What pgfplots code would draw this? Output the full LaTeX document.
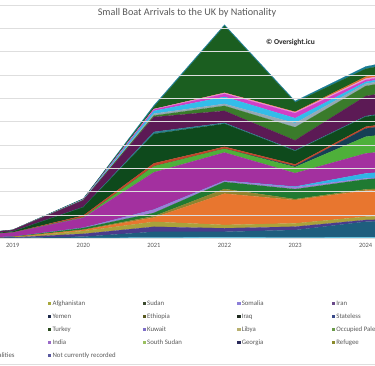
\documentclass[border=0pt]{standalone}
\usepackage{pgfplots}
\pgfplotsset{compat=1.18}
\usepackage{pgfplotstable}
\usepackage{fontspec}
\setmainfont{Carlito}
\definecolor{txtgray}{HTML}{595959}
\definecolor{gridgray}{HTML}{DEDEDE}
\definecolor{c1}{HTML}{5BC8E8}
\definecolor{c2}{HTML}{1E5E7E}
\definecolor{c3}{HTML}{4B3B8C}
\definecolor{c4}{HTML}{A9A23C}
\definecolor{c5}{HTML}{E8762F}
\definecolor{c6}{HTML}{8C8530}
\definecolor{c7}{HTML}{1F7A32}
\definecolor{c8}{HTML}{9A80D8}
\definecolor{c9}{HTML}{2FB5E6}
\definecolor{c10}{HTML}{A3309F}
\definecolor{c11}{HTML}{4EB03A}
\definecolor{c12}{HTML}{163F55}
\definecolor{c13}{HTML}{C2452B}
\definecolor{c14}{HTML}{0E4A1C}
\definecolor{c15}{HTML}{2A8090}
\definecolor{c16}{HTML}{5C1A55}
\definecolor{c17}{HTML}{3A7B2B}
\definecolor{c18}{HTML}{94A9B5}
\definecolor{c19}{HTML}{33BDEA}
\definecolor{c20}{HTML}{D23FC6}
\definecolor{c21}{HTML}{E89AD8}
\definecolor{c22}{HTML}{E07030}
\definecolor{c23}{HTML}{1B5E20}
\definecolor{c24}{HTML}{1B7D96}
% legend marker colours
\definecolor{lAfg}{HTML}{A8A83C}
\definecolor{lSud}{HTML}{3C4A30}
\definecolor{lSom}{HTML}{8C7FD8}
\definecolor{lIra}{HTML}{6A4A8A}
\definecolor{lYem}{HTML}{1E2A4A}
\definecolor{lEth}{HTML}{5A5A20}
\definecolor{lIrq}{HTML}{1E2A1E}
\definecolor{lSta}{HTML}{3A4A8A}
\definecolor{lTur}{HTML}{2A4A1E}
\definecolor{lKuw}{HTML}{7F6FC8}
\definecolor{lLib}{HTML}{B8B070}
\definecolor{lOcc}{HTML}{6A9A4A}
\definecolor{lInd}{HTML}{9A6AC8}
\definecolor{lSSu}{HTML}{9AC060}
\definecolor{lGeo}{HTML}{2A2A5A}
\definecolor{lRef}{HTML}{8A8A2A}
\definecolor{lOth}{HTML}{7A7A7A}
\definecolor{lNcr}{HTML}{5A5AA0}
\newcommand{\lgt}[1]{\hspace*{1.2pt}\makebox[90.2pt][l]{#1}}
\pgfplotstableread{
year L1 L2 L3 L4 L5 L6 L7 L8 L9 L10 L11 L12 L13 L14 L15 L16 L17 L18 L19 L20 L21 L22 L23 L24
2018 0 5 5 5 0 0 0 0 0 250 0 0 0 10 0 10 0 0 0 0 0 0 5 2
2019 20 100 60 50 30 20 20 10 0 900 20 0 20 200 10 300 10 5 5 5 0 0 30 20
2020 60 300 600 600 200 100 350 50 0 2140 100 0 360 1790 50 1430 50 50 50 30 10 0 100 100
2021 150 1250 1070 1070 900 300 700 700 0 8000 1290 0 640 6300 430 3200 300 400 600 300 100 0 430 360
2022 200 1200 750 720 6700 1000 1500 250 0 6060 800 0 430 4930 200 2570 1070 430 1500 640 200 50 14270 300
2023 150 1630 710 710 5000 200 2140 430 100 2900 1300 200 360 2860 150 2140 2800 900 1070 1070 200 100 2000 300
2024 200 3360 360 710 5580 280 2140 200 1070 4290 3570 1780 360 2140 150 4290 2140 500 400 400 300 400 1700 500
2025 200 3700 400 750 6000 300 2300 200 1200 4600 3900 2000 400 2300 150 4600 2300 500 400 400 300 450 1900 500
}\datatable
\begin{document}
\begin{tikzpicture}[x=1pt,y=1pt]
\begin{axis}[
  anchor=south west,
  scale only axis, width=375pt, height=233.3pt,
  xmin=2018.820, xmax=2024.132, ymin=0, ymax=50000,
  stack plots=y, area style,
  axis line style={draw=none},
  major tick length=0pt,
  scaled y ticks=false,
  ytick={0,5000,...,50000}, yticklabels={},
  ymajorgrids, grid style={gridgray, line width=0.8pt},
  xtick={2019,2020,2021,2022,2023,2024},
  xticklabels={2019,2020,2021,2022,2023,2024},
  xticklabel style={font=\fontsize{6.5}{7}\selectfont, text=txtgray, yshift=-1pt},
  legend columns=5,
  legend image code/.code={\fill[#1] (0pt,-1.6pt) rectangle (3.2pt,1.6pt);},
  legend style={at={(axis description cs:-0.1243,-0.2658)}, anchor=north west,
    draw=none, fill=none, inner sep=0pt, row sep=6.4pt,
    font=\fontsize{6.8}{8}\selectfont, text=txtgray,
    nodes={inner sep=0pt, text height=5pt, text depth=1.5pt}},
  legend cell align=left,
]
\addplot[fill=c1, draw=c1, line width=0.1pt, forget plot] table[x=year,y=L1]{\datatable} \closedcycle;
\addplot[fill=c2, draw=c2, line width=0.1pt, forget plot] table[x=year,y=L2]{\datatable} \closedcycle;
\addplot[fill=c3, draw=c3, line width=0.1pt, forget plot] table[x=year,y=L3]{\datatable} \closedcycle;
\addplot[fill=c4, draw=c4, line width=0.1pt, forget plot] table[x=year,y=L4]{\datatable} \closedcycle;
\addplot[fill=c5, draw=c5, line width=0.1pt, forget plot] table[x=year,y=L5]{\datatable} \closedcycle;
\addplot[fill=c6, draw=c6, line width=0.1pt, forget plot] table[x=year,y=L6]{\datatable} \closedcycle;
\addplot[fill=c7, draw=c7, line width=0.1pt, forget plot] table[x=year,y=L7]{\datatable} \closedcycle;
\addplot[fill=c8, draw=c8, line width=0.1pt, forget plot] table[x=year,y=L8]{\datatable} \closedcycle;
\addplot[fill=c9, draw=c9, line width=0.1pt, forget plot] table[x=year,y=L9]{\datatable} \closedcycle;
\addplot[fill=c10, draw=c10, line width=0.1pt, forget plot] table[x=year,y=L10]{\datatable} \closedcycle;
\addplot[fill=c11, draw=c11, line width=0.1pt, forget plot] table[x=year,y=L11]{\datatable} \closedcycle;
\addplot[fill=c12, draw=c12, line width=0.1pt, forget plot] table[x=year,y=L12]{\datatable} \closedcycle;
\addplot[fill=c13, draw=c13, line width=0.1pt, forget plot] table[x=year,y=L13]{\datatable} \closedcycle;
\addplot[fill=c14, draw=c14, line width=0.1pt, forget plot] table[x=year,y=L14]{\datatable} \closedcycle;
\addplot[fill=c15, draw=c15, line width=0.1pt, forget plot] table[x=year,y=L15]{\datatable} \closedcycle;
\addplot[fill=c16, draw=c16, line width=0.1pt, forget plot] table[x=year,y=L16]{\datatable} \closedcycle;
\addplot[fill=c17, draw=c17, line width=0.1pt, forget plot] table[x=year,y=L17]{\datatable} \closedcycle;
\addplot[fill=c18, draw=c18, line width=0.1pt, forget plot] table[x=year,y=L18]{\datatable} \closedcycle;
\addplot[fill=c19, draw=c19, line width=0.1pt, forget plot] table[x=year,y=L19]{\datatable} \closedcycle;
\addplot[fill=c20, draw=c20, line width=0.1pt, forget plot] table[x=year,y=L20]{\datatable} \closedcycle;
\addplot[fill=c21, draw=c21, line width=0.1pt, forget plot] table[x=year,y=L21]{\datatable} \closedcycle;
\addplot[fill=c22, draw=c22, line width=0.1pt, forget plot] table[x=year,y=L22]{\datatable} \closedcycle;
\addplot[fill=c23, draw=c23, line width=0.1pt, forget plot] table[x=year,y=L23]{\datatable} \closedcycle;
\addplot[fill=c24, draw=c24, line width=0.1pt, forget plot] table[x=year,y=L24]{\datatable} \closedcycle;
\addlegendimage{fill=none,draw=none}\addlegendentry{\lgt{}}
\addlegendimage{fill=lAfg,draw=none}\addlegendentry{\lgt{Afghanistan}}
\addlegendimage{fill=lSud,draw=none}\addlegendentry{\lgt{Sudan}}
\addlegendimage{fill=lSom,draw=none}\addlegendentry{\lgt{Somalia}}
\addlegendimage{fill=lIra,draw=none}\addlegendentry{\lgt{Iran}}
\addlegendimage{fill=none,draw=none}\addlegendentry{\lgt{}}
\addlegendimage{fill=lYem,draw=none}\addlegendentry{\lgt{Yemen}}
\addlegendimage{fill=lEth,draw=none}\addlegendentry{\lgt{Ethiopia}}
\addlegendimage{fill=lIrq,draw=none}\addlegendentry{\lgt{Iraq}}
\addlegendimage{fill=lSta,draw=none}\addlegendentry{\lgt{Stateless}}
\addlegendimage{fill=none,draw=none}\addlegendentry{\lgt{}}
\addlegendimage{fill=lTur,draw=none}\addlegendentry{\lgt{Turkey}}
\addlegendimage{fill=lKuw,draw=none}\addlegendentry{\lgt{Kuwait}}
\addlegendimage{fill=lLib,draw=none}\addlegendentry{\lgt{Libya}}
\addlegendimage{fill=lOcc,draw=none}\addlegendentry{\lgt{Occupied Palestinian Territories}}
\addlegendimage{fill=none,draw=none}\addlegendentry{\lgt{}}
\addlegendimage{fill=lInd,draw=none}\addlegendentry{\lgt{India}}
\addlegendimage{fill=lSSu,draw=none}\addlegendentry{\lgt{South Sudan}}
\addlegendimage{fill=lGeo,draw=none}\addlegendentry{\lgt{Georgia}}
\addlegendimage{fill=lRef,draw=none}\addlegendentry{\lgt{Refugee}}
\addlegendimage{fill=lOth,draw=none}\addlegendentry{\lgt{\hspace*{5pt}Other nationalities}}
\addlegendimage{fill=lNcr,draw=none}\addlegendentry{\lgt{Not currently recorded}}
\end{axis}
\node[font=\fontsize{10.2}{12}\selectfont, text=txtgray] at (187,225.3) {Small Boat Arrivals to the UK by Nationality};
\node[font=\bfseries\fontsize{7.5}{9}\selectfont, text=black!85] at (290.5,195.3) {© Oversight.icu};
\draw[gridgray, line width=0.8pt] (0,-126.2) -- (375,-126.2);
\pgfresetboundingbox
\path (0,-127.7) rectangle (375,238.3);
\end{tikzpicture}
\end{document}
